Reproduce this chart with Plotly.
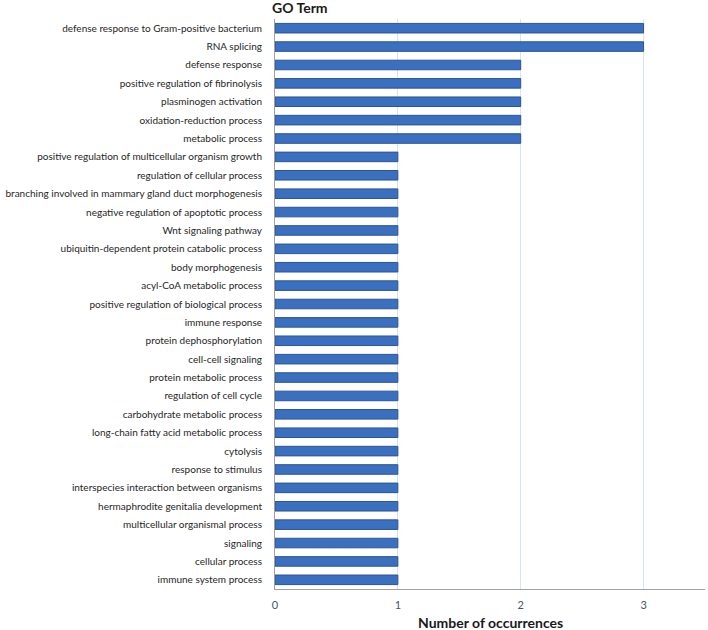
import plotly.graph_objects as go

go_terms = [
    'defense response to Gram-positive bacterium',
    'RNA splicing',
    'defense response',
    'positive regulation of fibrinolysis',
    'plasminogen activation',
    'oxidation-reduction process',
    'metabolic process',
    'positive regulation of multicellular organism growth',
    'regulation of cellular process',
    'branching involved in mammary gland duct morphogenesis',
    'negative regulation of apoptotic process',
    'Wnt signaling pathway',
    'ubiquitin-dependent protein catabolic process',
    'body morphogenesis',
    'acyl-CoA metabolic process',
    'positive regulation of biological process',
    'immune response',
    'protein dephosphorylation',
    'cell-cell signaling',
    'protein metabolic process',
    'regulation of cell cycle',
    'carbohydrate metabolic process',
    'long-chain fatty acid metabolic process',
    'cytolysis',
    'response to stimulus',
    'interspecies interaction between organisms',
    'hermaphrodite genitalia development',
    'multicellular organismal process',
    'signaling',
    'cellular process',
    'immune system process',
]
occurrences = [3, 3, 2, 2, 2, 2, 2] + [1] * 24
x_ticks = [0, 1, 2, 3]

fig = go.Figure()
fig.add_trace(go.Bar(
    y=go_terms,
    x=occurrences,
    orientation='h',
    width=0.52,
    marker=dict(color='#3b6fbf', line=dict(color='#2c5592', width=1)),
    hoverinfo='skip',
))

fig.update_layout(
    width=708,
    height=630,
    margin=dict(l=275, r=3, t=19, b=41),
    plot_bgcolor='white',
    paper_bgcolor='white',
    font=dict(family='Lato, Open Sans, sans-serif', size=10, color='#262626'),
    showlegend=False,
)
fig.update_yaxes(
    autorange='reversed',
    automargin=False,
    showline=True,
    linecolor='#a0a0a0',
    linewidth=1,
    ticks='',
    ticklabelstandoff=10,
    showgrid=False,
)
fig.update_xaxes(
    range=[0, 3.5],
    automargin=False,
    tickvals=x_ticks,
    showline=True,
    linecolor='#a0a0a0',
    linewidth=1,
    showgrid=True,
    gridcolor='#d5e3f3',
    gridwidth=1,
    zeroline=False,
    tickfont=dict(color='#44546a', size=11),
    ticklabelstandoff=6,
)
fig.add_annotation(
    text='<b>GO Term</b>',
    xref='paper', yref='paper',
    x=-0.012, y=1.0,
    xanchor='left', yanchor='bottom',
    yshift=1,
    showarrow=False,
    font=dict(size=14, color='#1a1a1a'),
)
fig.add_annotation(
    text='<b>Number of occurrences</b>',
    xref='paper', yref='paper',
    x=0.5, y=0,
    xanchor='center', yanchor='middle',
    yshift=-33,
    showarrow=False,
    font=dict(size=14, color='#1a1a1a'),
)

fig.write_html('out.html', config={'displayModeBar': False},
               post_script="document.body.style.margin='0';")
